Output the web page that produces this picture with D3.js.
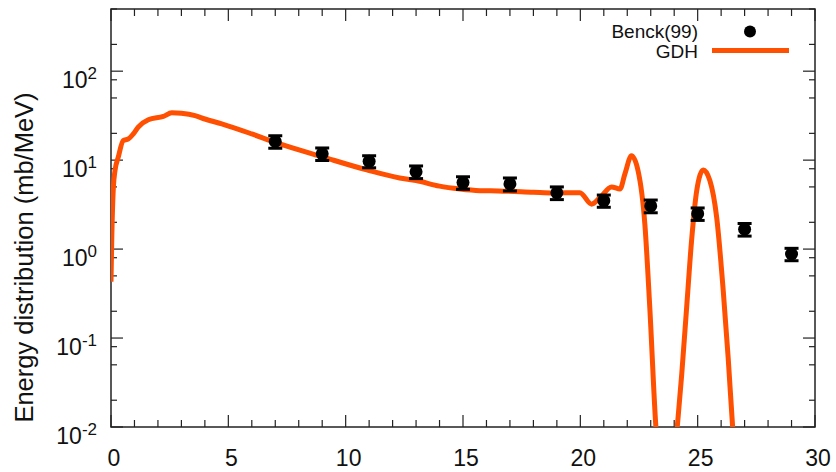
<!DOCTYPE html>
<html>
<head>
<meta charset="utf-8">
<script src="https://cdn.jsdelivr.net/npm/d3@7"></script>
<style>
  html, body { margin: 0; padding: 0; background: #fff; }
  svg { display: block; font-family: "Liberation Sans", Arial, sans-serif; }
</style>
</head>
<body>
<svg id="chart" width="836" height="472"></svg>
<script>
// ---- data ----
const benckE   = [7, 9, 11, 13, 15, 17, 19, 21, 23, 25, 27, 29];
const benckVal = [16.2, 11.8, 9.7, 7.4, 5.6, 5.4, 4.3, 3.5, 3.06, 2.5, 1.67, 0.88];
const benckErr = [2.6, 1.9, 1.5, 1.2, 0.9, 0.9, 0.7, 0.55, 0.5, 0.4, 0.27, 0.14];

const gdhE   = [0, 0.03, 0.1, 0.17, 0.31, 0.52, 0.74, 0.95, 1.16, 1.59, 2.23, 2.59, 3.0, 3.58, 4.0, 4.72, 6.0, 7.0, 9.05, 10.9, 12.3, 13.0, 14.0, 14.87, 15.72, 16.5, 18.0, 18.85, 19.98, 20.48, 20.84, 21.33, 21.69, 21.9, 22.18, 22.46, 22.75, 22.96, 23.22, 23.5, 23.9, 24.13, 24.32, 24.53, 24.74, 24.96, 25.24, 25.52, 25.81, 26.09, 26.3, 26.49, 26.7];
const gdhVal = [0.43, 1.2, 4.9, 7.6, 10.8, 16.6, 17.3, 19.7, 23.5, 28.4, 31, 34, 33.6, 31.7, 29, 25.6, 19.7, 15.8, 10.8, 7.77, 6.3, 5.9, 5.1, 4.74, 4.54, 4.5, 4.35, 4.27, 4.3, 3.2, 3.8, 5.0, 4.74, 7.0, 11.2, 7.6, 1.9, 0.22, 0.01, 0.002, 0.002, 0.01, 0.039, 0.22, 1.24, 4.54, 7.76, 5.9, 2.27, 0.34, 0.06, 0.01, 0.002];

const xTicks = [0, 5, 10, 15, 20, 25, 30];
const yTickExp = [-2, -1, 0, 1, 2];
const legendLabels = ["Benck(99)", "GDH"];

// ---- layout ----
const svg = d3.select("#chart");
const L = 111, R = 815, T = 9, B = 427;
const orange = "#ff4f00";
const axisCol = "#222";

const x = d3.scaleLinear().domain([0, 30]).range([L, R]);
const y = d3.scaleLog().domain([0.01, 500]).range([B, T]);

// minor ticks: 2,5,8 per decade
const minorY = [];
for (let e = -2; e <= 2; e++) [2, 5, 8].forEach(m => { const v = m * Math.pow(10, e); if (v < 500 + 1e-9) minorY.push(v); });
const minorX = d3.range(0, 31).filter(v => v % 5 !== 0);

const g = svg.append("g");

// clip path
svg.append("defs").append("clipPath").attr("id", "clip")
  .append("rect").attr("x", L).attr("y", T).attr("width", R - L).attr("height", B - T);

// ticks
const tickG = g.append("g").attr("stroke", axisCol).attr("stroke-width", 1.2);
xTicks.forEach(v => {
  tickG.append("line").attr("x1", x(v)).attr("x2", x(v)).attr("y1", B).attr("y2", B - 12);
  tickG.append("line").attr("x1", x(v)).attr("x2", x(v)).attr("y1", T).attr("y2", T + 12);
});
minorX.forEach(v => {
  tickG.append("line").attr("x1", x(v)).attr("x2", x(v)).attr("y1", B).attr("y2", B - 7);
  tickG.append("line").attr("x1", x(v)).attr("x2", x(v)).attr("y1", T).attr("y2", T + 7);
});
yTickExp.forEach(e => {
  const yy = y(Math.pow(10, e));
  tickG.append("line").attr("x1", L).attr("x2", L + 12).attr("y1", yy).attr("y2", yy);
  tickG.append("line").attr("x1", R).attr("x2", R - 12).attr("y1", yy).attr("y2", yy);
});
minorY.forEach(v => {
  const yy = y(v);
  tickG.append("line").attr("x1", L).attr("x2", L + 6).attr("y1", yy).attr("y2", yy);
  tickG.append("line").attr("x1", R).attr("x2", R - 6).attr("y1", yy).attr("y2", yy);
});

// frame
g.append("rect").attr("x", L).attr("y", T).attr("width", R - L).attr("height", B - T)
  .attr("fill", "none").attr("stroke", axisCol).attr("stroke-width", 1.5);

// x tick labels
g.append("g").selectAll("text").data(xTicks).join("text")
  .attr("x", d => x(d) + 3).attr("y", 466)
  .attr("text-anchor", "middle").attr("font-size", 23).attr("fill", "#111")
  .text(d => d);

// y tick labels (10^e)
yTickExp.forEach(e => {
  const t = g.append("text").attr("x", 97).attr("y", y(Math.pow(10, e)) + 16.5)
    .attr("text-anchor", "end").attr("font-size", 23).attr("fill", "#111");
  t.append("tspan").text("10");
  t.append("tspan").attr("dy", -9).attr("font-size", 17).text(String(e));
});

// y axis label
g.append("text")
  .attr("transform", `translate(33, 257.5) rotate(-90)`)
  .attr("text-anchor", "middle").attr("font-size", 25.5).attr("fill", "#111")
  .text("Energy distribution (mb/MeV)");

// GDH curve
const line = d3.line()
  .x(d => x(d[0]))
  .y(d => y(d[1]))
  .curve(d3.curveMonotoneX);
g.append("path")
  .datum(gdhE.map((e, i) => [e, gdhVal[i]]))
  .attr("clip-path", "url(#clip)")
  .attr("fill", "none").attr("stroke", orange).attr("stroke-width", 5)
  .attr("stroke-linejoin", "round")
  .attr("d", line);

// Benck points with error bars
const pts = g.append("g").attr("clip-path", "url(#clip)");
benckE.forEach((e, i) => {
  const v = benckVal[i], er = benckErr[i];
  const cx = x(e);
  const y1 = y(v + er), y2 = y(v - er);
  pts.append("line").attr("x1", cx).attr("x2", cx).attr("y1", y1).attr("y2", y2)
    .attr("stroke", "#000").attr("stroke-width", 2.5);
  [y1, y2].forEach(yy => pts.append("line").attr("x1", cx - 7).attr("x2", cx + 7)
    .attr("y1", yy).attr("y2", yy).attr("stroke", "#000").attr("stroke-width", 3));
  pts.append("circle").attr("cx", cx).attr("cy", y(v)).attr("r", 6.5).attr("fill", "#000");
});

// legend
const lg = g.append("g").attr("font-size", 19).attr("fill", "#111");
lg.append("text").attr("x", 698).attr("y", 37.5).attr("text-anchor", "end").text(legendLabels[0]);
lg.append("text").attr("x", 698).attr("y", 57.5).attr("text-anchor", "end").text(legendLabels[1]);
g.append("circle").attr("cx", 750).attr("cy", 31.5).attr("r", 6).attr("fill", "#000");
g.append("line").attr("x1", 712).attr("x2", 789).attr("y1", 50.5).attr("y2", 50.5)
  .attr("stroke", orange).attr("stroke-width", 5);
</script>
</body>
</html>
